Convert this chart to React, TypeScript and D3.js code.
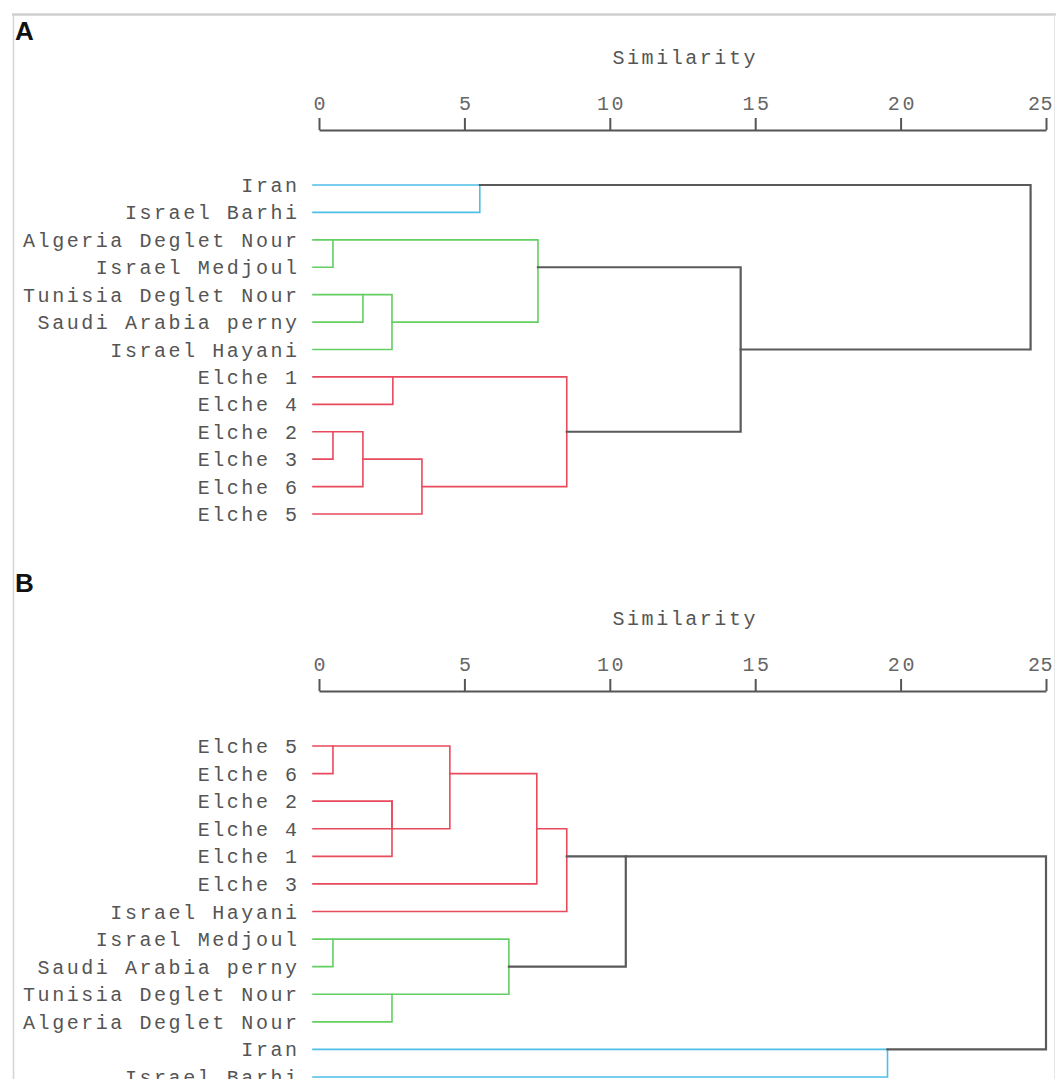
import React, { useEffect, useRef } from "react";
import * as d3 from "d3";

const W = 1056;
const H = 1079;

const AXIS_TITLE = "Similarity";
const TICKS = [0, 5, 10, 15, 20, 25];

const LEAVES_A = [
  "Iran",
  "Israel Barhi",
  "Algeria Deglet Nour",
  "Israel Medjoul",
  "Tunisia Deglet Nour",
  "Saudi Arabia perny",
  "Israel Hayani",
  "Elche 1",
  "Elche 4",
  "Elche 2",
  "Elche 3",
  "Elche 6",
  "Elche 5",
];

type Ref = string | number;
type Merge = { a: Ref; b: Ref; h: number; group: string; at?: string };

// numbers refer to earlier merges (by index), strings to leaves
const MERGES_A: Merge[] = [
  { a: "Iran", b: "Israel Barhi", h: 5.53, group: "blue" },
  { a: "Algeria Deglet Nour", b: "Israel Medjoul", h: 0.48, group: "green" },
  { a: "Tunisia Deglet Nour", b: "Saudi Arabia perny", h: 1.51, group: "green" },
  { a: 2, b: "Israel Hayani", h: 2.51, group: "green" },
  { a: 1, b: 3, h: 7.53, group: "green" },
  { a: "Elche 1", b: "Elche 4", h: 2.54, group: "red" },
  { a: "Elche 2", b: "Elche 3", h: 0.48, group: "red" },
  { a: 6, b: "Elche 6", h: 1.51, group: "red" },
  { a: 7, b: "Elche 5", h: 3.54, group: "red" },
  { a: 5, b: 8, h: 8.52, group: "red" },
  { a: 4, b: 9, h: 14.5, group: "black" },
  { a: 0, b: 10, h: 24.47, group: "black" },
];

const LEAVES_B = [
  "Elche 5",
  "Elche 6",
  "Elche 2",
  "Elche 4",
  "Elche 1",
  "Elche 3",
  "Israel Hayani",
  "Israel Medjoul",
  "Saudi Arabia perny",
  "Tunisia Deglet Nour",
  "Algeria Deglet Nour",
  "Iran",
  "Israel Barhi",
];

const MERGES_B: Merge[] = [
  { a: "Elche 5", b: "Elche 6", h: 0.48, group: "red" },
  { a: "Elche 2", b: "Elche 4", h: 2.51, group: "red" },
  { a: 1, b: "Elche 1", h: 2.51, group: "red" },
  { a: 0, b: 2, h: 4.5, group: "red" },
  { a: 3, b: "Elche 3", h: 7.49, group: "red" },
  { a: 4, b: "Israel Hayani", h: 8.52, group: "red" },
  { a: "Israel Medjoul", b: "Saudi Arabia perny", h: 0.48, group: "green" },
  { a: "Tunisia Deglet Nour", b: "Algeria Deglet Nour", h: 2.51, group: "green" },
  { a: 6, b: 7, h: 6.53, group: "green" },
  { a: 5, b: 8, h: 10.55, group: "black", at: "Elche 1" },
  { a: "Iran", b: "Israel Barhi", h: 19.55, group: "blue" },
  { a: 9, b: 10, h: 25.0, group: "black" },
];

const COLORS: Record<string, string> = {
  blue: "#4dbfe8",
  green: "#63cf63",
  red: "#e84a5c",
  black: "#5a5a5a",
};

const MONO = "'Liberation Mono', 'Courier New', monospace";
const FS = 20;
const LS = 2.55;
const TEXT = "#555";

type PanelProps = {
  letter: string;
  leaves: string[];
  merges: Merge[];
  top: number;
  rowStart: number;
  rowEnd: number;
};

function Panel({ letter, leaves, merges, top, rowStart, rowEnd }: PanelProps) {
  const axisRef = useRef<SVGGElement>(null);
  const x = d3.scaleLinear().domain([0, 25]).range([319, 1046]);
  const y = d3.scalePoint<string>().domain(leaves).range([rowStart, rowEnd]);

  useEffect(() => {
    if (!axisRef.current) return;
    const g = d3.select(axisRef.current);
    g.call(
      d3
        .axisTop(x)
        .tickValues(TICKS)
        .tickSize(12)
        .tickSizeOuter(0)
        .tickPadding(8)
        .tickFormat(d3.format("d"))
    );
    g.select(".domain").attr("stroke", "#555").attr("stroke-width", 2);
    g.selectAll(".tick line").attr("stroke", "#555").attr("stroke-width", 2);
    const last = TICKS[TICKS.length - 1];
    g.selectAll<SVGTextElement, number>(".tick text")
      .attr("fill", "#666")
      .attr("font-family", MONO)
      .attr("font-size", FS)
      .attr("letter-spacing", (d) => (d === last ? 0.5 : LS))
      .attr("text-anchor", (d) => (d === last ? "end" : "middle"))
      .attr("dx", (d) => (d === last ? 6.5 : LS / 2));
  }, []);

  const nodeRows: number[] = [];
  const rowOf = (r: Ref) => (typeof r === "string" ? leaves.indexOf(r) : nodeRows[r]);
  merges.forEach((m) => {
    const ra = rowOf(m.a);
    const rb = rowOf(m.b);
    nodeRows.push(m.at ? leaves.indexOf(m.at) : Math.floor((ra + rb) / 2));
  });
  const xOf = (r: Ref) => (typeof r === "string" ? x(0) - 6 : x(merges[r].h));
  const yRow = (row: number) => y(leaves[row]) as number;

  const order = merges
    .map((m, i) => i)
    .sort((i, j) => (merges[i].group === "black" ? 1 : 0) - (merges[j].group === "black" ? 1 : 0));

  const paths = order.map((i) => {
    const m = merges[i];
    const xn = x(m.h);
    const ya = yRow(rowOf(m.a));
    const yb = yRow(rowOf(m.b));
    const p = d3.path();
    p.moveTo(xOf(m.a), ya);
    p.lineTo(xn, ya);
    p.moveTo(xOf(m.b), yb);
    p.lineTo(xn, yb);
    p.moveTo(xn, Math.min(ya, yb));
    p.lineTo(xn, Math.max(ya, yb));
    const black = m.group === "black";
    return (
      <path
        key={i}
        d={p.toString()}
        fill="none"
        stroke={COLORS[m.group]}
        strokeWidth={black ? 2.2 : 1.6}
        strokeLinecap="square"
      />
    );
  });

  return (
    <g transform={`translate(0,${top})`}>
      <text
        x={15}
        y={letter === "A" ? 40 : 31}
        fontFamily="'Liberation Sans', Arial, sans-serif"
        fontWeight="bold"
        fontSize={26}
        fill="#111"
      >
        {letter}
      </text>
      <text
        x={684 + LS / 2}
        y={64}
        textAnchor="middle"
        fontFamily={MONO}
        fontSize={FS}
        letterSpacing={LS}
        fill={TEXT}
      >
        {AXIS_TITLE}
      </text>
      <g ref={axisRef} transform="translate(0,130)" />
      {leaves.map((l) => (
        <text
          key={l}
          x={297 + LS}
          y={(y(l) as number) + 7}
          textAnchor="end"
          fontFamily={MONO}
          fontSize={FS}
          letterSpacing={LS}
          fill={TEXT}
        >
          {l}
        </text>
      ))}
      {paths}
    </g>
  );
}

export default function App() {
  return (
    <svg
      width={W}
      height={H}
      viewBox={`0 0 ${W} ${H}`}
      style={{ position: "absolute", left: 0, top: 0, display: "block", background: "#fff" }}
    >
      <rect x={0} y={0} width={W} height={H} fill="#fff" />
      <line x1={12} x2={W} y1={14.5} y2={14.5} stroke="#cfcfcf" strokeWidth={2.5} />
      <line x1={13.5} x2={13.5} y1={14} y2={H} stroke="#d4d4d4" strokeWidth={1.5} />
      <line x1={1054.5} x2={1054.5} y1={14} y2={H} stroke="#e6e6e6" strokeWidth={1} />
      <Panel letter="A" leaves={LEAVES_A} merges={MERGES_A} top={0} rowStart={185} rowEnd={514} />
      <Panel letter="B" leaves={LEAVES_B} merges={MERGES_B} top={561} rowStart={185} rowEnd={516} />
    </svg>
  );
}
